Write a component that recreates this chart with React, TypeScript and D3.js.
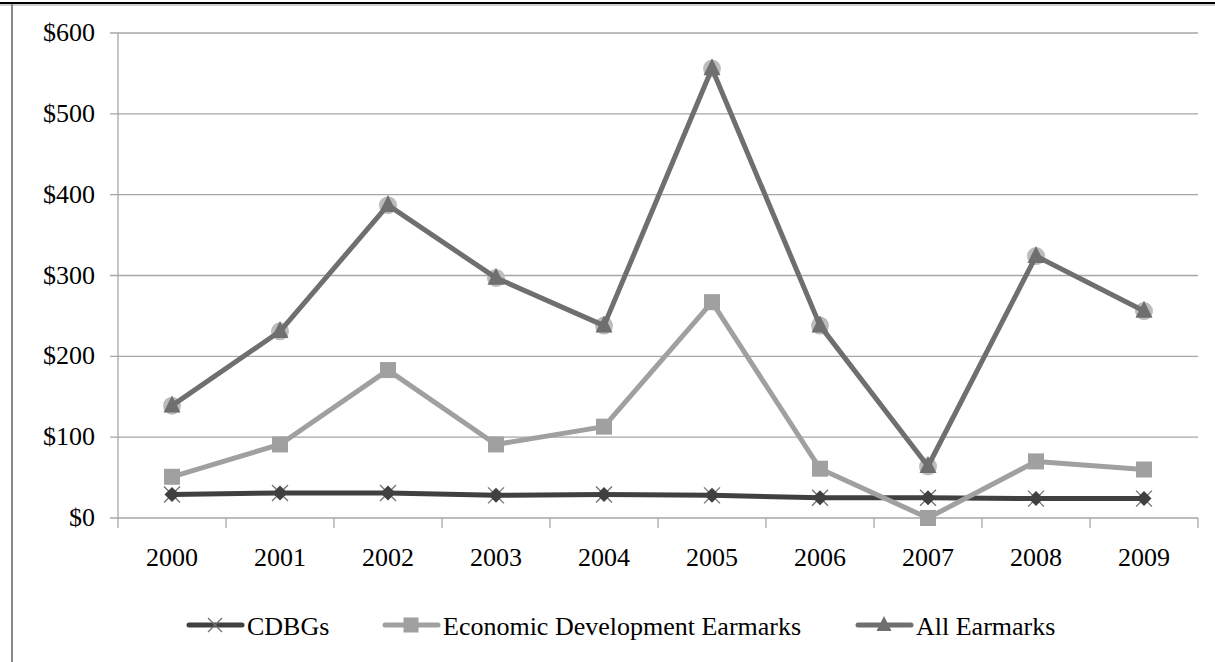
import React from "react";
import * as d3 from "d3";

const years = ["2000", "2001", "2002", "2003", "2004", "2005", "2006", "2007", "2008", "2009"];
const cdbg = [29, 31, 31, 28, 29, 28, 25, 25, 24, 24];
const econDev = [51, 91, 183, 91, 113, 267, 61, 0, 70, 60];
const allEarmarks = [139, 231, 387, 297, 238, 556, 238, 64, 324, 256];
const yTicks = [0, 100, 200, 300, 400, 500, 600];

const W = 1215;
const H = 662;
const left = 118;
const right = 1198;
const top = 33;
const bottom = 518;
const font = "Liberation Serif";

export default function App() {
  const x = d3.scaleBand<string>().domain(years).range([left, right]).padding(0);
  const y = d3.scaleLinear().domain([0, 600]).range([bottom, top]);
  const cx = (i: number) => (x(years[i]) as number) + x.bandwidth() / 2;
  const line = d3
    .line<number>()
    .x((_, i) => cx(i))
    .y((d) => y(d));

  const cdbgColor = "#404040";
  const econColor = "#a0a0a0";
  const allColor = "#6f6f6f";
  const circleColor = "#bcbcbc";
  const gridColor = "#a6a6a6";

  const sq = 16;
  const tri = (px: number, py: number, s: number) =>
    `M${px},${py - s * 0.6} L${px + s / 2},${py + s * 0.4} L${px - s / 2},${py + s * 0.4} Z`;
  const diamond = (px: number, py: number, s: number) =>
    `M${px},${py - s / 2} L${px + s / 2},${py} L${px},${py + s / 2} L${px - s / 2},${py} Z`;

  const bounds = [...years.map((yr) => x(yr) as number), right];

  const legendY = 625;
  const legendItems = [
    { label: "CDBGs", x1: 189, color: cdbgColor, kind: "x" },
    { label: "Economic Development Earmarks", x1: 385, color: econColor, kind: "sq" },
    { label: "All Earmarks", x1: 858, color: allColor, kind: "tri" },
  ];

  return (
    <svg width={W} height={H} style={{ position: "absolute", left: 0, top: 0, background: "#fff" }}>
      <rect x={0} y={0} width={W} height={H} fill="#fff" />
      {/* frame */}
      <line x1={0} x2={W} y1={3} y2={3} stroke="#000" strokeWidth={2} />
      <line x1={0} x2={W} y1={5} y2={5} stroke="#a0a0a0" strokeWidth={1} />
      <line x1={12} x2={12} y1={4} y2={H} stroke="#888" strokeWidth={2} />

      {/* gridlines */}
      {yTicks.map((t) => (
        <g key={t}>
          <line x1={110} x2={right} y1={y(t)} y2={y(t)} stroke={gridColor} strokeWidth={1.3} />
          <text x={95} y={y(t) + 8} textAnchor="end" fontFamily={font} fontSize={26} fill="#000">
            {"$" + t}
          </text>
        </g>
      ))}
      {/* y axis */}
      <line x1={left} x2={left} y1={top} y2={bottom} stroke={gridColor} strokeWidth={1.3} />
      {/* x ticks */}
      {bounds.map((b, i) => (
        <line key={i} x1={b} x2={b} y1={bottom} y2={bottom + 10} stroke={gridColor} strokeWidth={1.3} />
      ))}
      {years.map((yr, i) => (
        <text key={yr} x={cx(i)} y={566} textAnchor="middle" fontFamily={font} fontSize={26} fill="#000">
          {yr}
        </text>
      ))}

      {/* CDBG */}
      <path d={line(cdbg) as string} fill="none" stroke={cdbgColor} strokeWidth={5} strokeLinejoin="round" />
      {cdbg.map((v, i) => (
        <g key={i}>
          <path
            d={`M${cx(i) - 8},${y(v) - 8} L${cx(i) + 8},${y(v) + 8} M${cx(i) + 8},${y(v) - 8} L${cx(i) - 8},${y(v) + 8}`}
            stroke="#707070"
            strokeWidth={1.3}
          />
          <path d={diamond(cx(i), y(v), 15)} fill={cdbgColor} />
        </g>
      ))}

      {/* Economic Development */}
      <path d={line(econDev) as string} fill="none" stroke={econColor} strokeWidth={5} strokeLinejoin="round" />
      {econDev.map((v, i) => (
        <rect key={i} x={cx(i) - sq / 2} y={y(v) - sq / 2} width={sq} height={sq} fill={econColor} />
      ))}

      {/* All Earmarks */}
      {allEarmarks.map((v, i) => (
        <circle key={i} cx={cx(i)} cy={y(v)} r={9} fill={circleColor} />
      ))}
      <path d={line(allEarmarks) as string} fill="none" stroke={allColor} strokeWidth={5} strokeLinejoin="round" />
      {allEarmarks.map((v, i) => (
        <path key={i} d={tri(cx(i), y(v), 17)} fill={allColor} />
      ))}

      {/* legend */}
      {legendItems.map((it) => {
        const mid = it.x1 + 26;
        return (
          <g key={it.label}>
            <line x1={it.x1} x2={it.x1 + 53} y1={legendY} y2={legendY} stroke={it.color} strokeWidth={5} strokeLinecap="round" />
            {it.kind === "x" && (
              <path
                d={`M${mid - 7},${legendY - 7} L${mid + 7},${legendY + 7} M${mid + 7},${legendY - 7} L${mid - 7},${legendY + 7}`}
                stroke="#707070"
                strokeWidth={1.3}
              />
            )}
            {it.kind === "sq" && <rect x={mid - 7.5} y={legendY - 7.5} width={15} height={15} fill={it.color} />}
            {it.kind === "tri" && <path d={tri(mid, legendY, 15)} fill={it.color} />}
            <text x={it.x1 + 58} y={legendY + 10} fontFamily={font} fontSize={26} fill="#000">
              {it.label}
            </text>
          </g>
        );
      })}
    </svg>
  );
}
